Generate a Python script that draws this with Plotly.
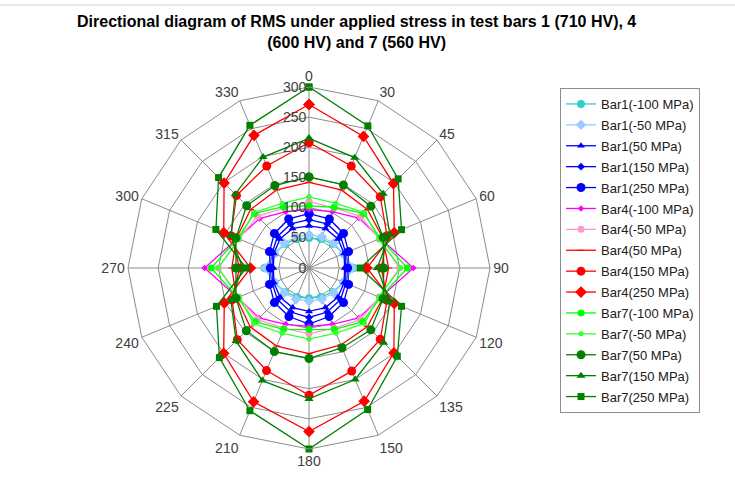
import plotly.graph_objects as go

# Measurement directions (degrees) in the order they sit around the diagram
directions = ["0", "30", "45", "60", "90", "120", "135", "150",
              "180", "210", "225", "240", "270", "300", "315", "330"]

# RMS values per direction for each bar / applied stress
bar1_m100 = [50, 52, 56, 62, 74, 62, 56, 52, 50, 52, 56, 62, 74, 62, 56, 52]
bar1_m50 = [55, 56, 58, 62, 72, 62, 58, 56, 55, 56, 58, 62, 72, 62, 58, 56]
bar1_p50 = [70, 71, 68, 63, 59, 63, 68, 71, 72, 71, 68, 63, 59, 63, 68, 71]
bar1_p150 = [80, 79, 74, 66, 61, 66, 74, 79, 82, 79, 74, 66, 61, 66, 74, 79]
bar1_p250 = [90, 88, 81, 71, 64, 71, 81, 87, 93, 87, 81, 71, 64, 71, 81, 88]

bar4_m100 = [97, 101, 117, 128, 173, 128, 117, 101, 97, 101, 117, 128, 173, 128, 116, 101]
bar4_m50 = [110, 108, 121, 126, 150, 126, 121, 108, 109, 108, 121, 126, 150, 126, 121, 108]
bar4_p50 = [142, 140, 137, 132, 132, 132, 137, 138, 142, 140, 138, 130, 128, 130, 137, 140]
bar4_p150 = [208, 183, 167, 140, 120, 140, 167, 185, 211, 184, 168, 138, 115, 140, 170, 183]
bar4_p250 = [271, 236, 198, 153, 96, 153, 199, 239, 271, 240, 200, 152, 97, 153, 199, 238]

bar7_m100 = [103, 109, 128, 128, 163, 128, 126, 110, 102, 110, 126, 128, 162, 128, 128, 110]
bar7_m50 = [118, 116, 130, 125, 152, 125, 130, 117, 118, 117, 130, 125, 151, 125, 130, 116]
bar7_p50 = [151, 149, 145, 133, 124, 133, 145, 143, 150, 150, 147, 131, 121, 131, 146, 148]
bar7_p150 = [215, 198, 174, 145, 113, 145, 175, 200, 217, 202, 171, 140, 110, 140, 173, 199]
bar7_p250 = [300, 255, 209, 166, 85, 166, 207, 254, 300, 256, 210, 166, 104, 167, 212, 256]

radial_ticks = [0, 50, 100, 150, 200, 250, 300]

series = [
    ("Bar1(-100 MPa)", bar1_m100, "#33CCCC", "circle", 8),
    ("Bar1(-50 MPa)", bar1_m50, "#99CCFF", "diamond", 8),
    ("Bar1(50 MPa)", bar1_p50, "#0000FF", "triangle-up", 7),
    ("Bar1(150 MPa)", bar1_p150, "#0000FF", "diamond", 6),
    ("Bar1(250 MPa)", bar1_p250, "#0000FF", "circle", 9),
    ("Bar4(-100 MPa)", bar4_m100, "#FF00FF", "diamond", 5),
    ("Bar4(-50 MPa)", bar4_m50, "#FF99CC", "circle", 7),
    ("Bar4(50 MPa)", bar4_p50, "#FF0000", "line-ew", 5),
    ("Bar4(150 MPa)", bar4_p150, "#FF0000", "circle", 9),
    ("Bar4(250 MPa)", bar4_p250, "#FF0000", "diamond", 9),
    ("Bar7(-100 MPa)", bar7_m100, "#00FF00", "circle", 7),
    ("Bar7(-50 MPa)", bar7_m50, "#33FF33", "circle", 5),
    ("Bar7(50 MPa)", bar7_p50, "#008000", "circle", 9),
    ("Bar7(150 MPa)", bar7_p150, "#008000", "triangle-up", 8),
    ("Bar7(250 MPa)", bar7_p250, "#008000", "square", 7),
]

fig = go.Figure()
for name, vals, color, symbol, size in series:
    fig.add_trace(go.Scatterpolar(
        r=vals + vals[:1],
        theta=directions + directions[:1],
        name=name,
        legendgroup=name,
        mode="lines+markers",
        line=dict(color=color, width=1.3),
        marker=dict(symbol=symbol, size=size, color=color,
                    line=dict(color=color, width=1 if symbol == "line-ew" else 0)),
    ))

grid = "#8C8C8C"
font = "Liberation Sans, Arial, sans-serif"

W, H = 735, 503
cx, cy, rad = 309, 268, 181

fig.update_layout(
    width=W, height=H,
    margin=dict(l=0, r=0, t=0, b=0),
    paper_bgcolor="white",
    font=dict(family=font, color="#404040"),
    annotations=[dict(
        text="<b>Directional diagram of RMS under applied stress in test bars 1 (710 HV), 4<br>(600 HV) and 7 (560 HV)</b>",
        xref="paper", yref="paper",
        x=356 / W, xanchor="center", y=1 - 11 / H, yanchor="top",
        showarrow=False, align="center",
        font=dict(size=16, color="#000000", family=font),
    )],
    polar=dict(
        domain=dict(x=[(cx - rad) / W, (cx + rad) / W],
                    y=[(H - cy - rad) / H, (H - cy + rad) / H]),
        bgcolor="white",
        gridshape="linear",
        angularaxis=dict(
            type="category",
            direction="clockwise",
            rotation=90,
            categoryarray=directions,
            showline=True, linecolor=grid, linewidth=1,
            showgrid=True, gridcolor=grid, gridwidth=1,
            ticks="",
            tickfont=dict(size=14, color="#404040"),
        ),
        radialaxis=dict(
            range=[0, 300],
            angle=90,
            tickangle=90,
            tickvals=radial_ticks,
            ticktext=[str(v) for v in radial_ticks],
            showline=False,
            showgrid=True, gridcolor=grid, gridwidth=1,
            ticks="",
            side="counterclockwise",
            tickfont=dict(size=14, color="#404040"),
        ),
    ),
    legend=dict(
        x=560 / W, xanchor="left", y=1 - 88 / H, yanchor="top",
        bordercolor="#8C8C8C", borderwidth=1,
        bgcolor="white",
        font=dict(size=13, color="#202020", family=font),
        itemwidth=30,
        tracegroupgap=1,
    ),
    shapes=[dict(type="line", xref="paper", yref="paper",
                 x0=0, x1=1, y0=1 - 5 / H, y1=1 - 5 / H,
                 line=dict(color="#D0D0D0", width=1))],
)

fig.write_html("out.html")
